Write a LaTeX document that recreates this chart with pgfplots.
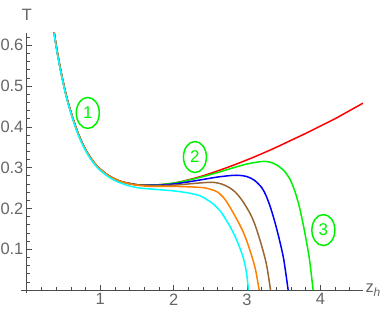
\documentclass[border=0pt]{standalone}
\usepackage{pgfplots}
\pgfplotsset{compat=1.18}
\usepackage{fontspec}
\setmainfont{Liberation Sans}
\usetikzlibrary{shapes.geometric}
\definecolor{mgreen}{rgb}{0,0.95,0}
\definecolor{mbrown}{rgb}{0.6,0.4,0.2}
\definecolor{morange}{rgb}{1,0.5,0}
\definecolor{mcyan}{rgb}{0,1,1}
\begin{document}
\begin{tikzpicture}
\path[use as bounding box] (-21bp,-25.7bp) rectangle (367bp,293.3bp);
\begin{axis}[
  at={(0,0)}, anchor=south west, scale only axis,
  width=342bp, height=260.3bp,
  xmin=-0.08, xmax=4.58, ymin=-0.008, ymax=0.63,
  axis lines=middle, axis line style={-, draw=black!70, line width=0.8pt},
  xtick={1,2,3,4}, ytick={0.1,0.2,0.3,0.4,0.5,0.6},
  minor xtick={0.2,0.4,0.6,0.8,1.2,1.4,1.6,1.8,2.2,2.4,2.6,2.8,3.2,3.4,3.6,3.8,4.2,4.4},
  minor ytick={0.02,0.04,0.06,0.08,0.12,0.14,0.16,0.18,0.22,0.24,0.26,0.28,0.32,0.34,0.36,0.38,0.42,0.44,0.46,0.48,0.52,0.54,0.56,0.58,0.62},
  tick align=inside, major tick length=5bp, minor tick length=3bp,
  every tick/.style={black!70, line width=0.6pt},
  ticklabel style={font=\fontsize{16.5}{18}\selectfont, text=black!60},
  yticklabel style={/pgf/number format/fixed, /pgf/number format/precision=1, /pgf/number format/fixed zerofill},
  /pgf/number format/assume math mode=true,
  xlabel={z\raisebox{-0.25em}{\fontsize{12}{12}\selectfont\itshape h}}, ylabel={T},
  label style={font=\fontsize{16.5}{18}\selectfont, text=black!60},
  ylabel style={anchor=south, yshift=9bp},
  xlabel style={anchor=west, xshift=-1bp},
  every axis plot/.append style={line width=1.5pt, smooth, tension=0.5},
]
% red
\addplot[red] coordinates {(0.37,0.633) (0.40,0.598) (0.45,0.548) (0.50,0.505) (0.55,0.467) (0.60,0.436) (0.65,0.408) (0.70,0.383) (0.75,0.362) (0.80,0.344) (0.85,0.329) (0.90,0.316) (0.95,0.305) (1.00,0.296) (1.10,0.282) (1.20,0.272) (1.30,0.265) (1.40,0.261) (1.50,0.258) (1.60,0.257) (1.70,0.257) (1.80,0.258) (2.00,0.262) (2.20,0.270) (2.40,0.280) (2.60,0.292) (2.80,0.305) (3.00,0.319) (3.20,0.334) (3.40,0.350) (3.60,0.367) (3.80,0.384) (4.00,0.402) (4.20,0.420) (4.40,0.440) (4.58,0.458)};
% green
\addplot[mgreen] coordinates {(0.37,0.633) (0.40,0.598) (0.45,0.548) (0.50,0.505) (0.55,0.467) (0.60,0.436) (0.65,0.408) (0.70,0.383) (0.75,0.362) (0.80,0.344) (0.85,0.329) (0.90,0.316) (0.95,0.305) (1.00,0.296) (1.10,0.282) (1.20,0.272) (1.30,0.265) (1.40,0.261) (1.50,0.258) (1.60,0.257) (1.70,0.257) (1.80,0.258) (2.00,0.262) (2.20,0.269) (2.40,0.278) (2.60,0.288) (2.80,0.299) (3.00,0.309) (3.20,0.315) (3.30,0.314) (3.40,0.307) (3.50,0.293) (3.58,0.273) (3.64,0.248) (3.70,0.213) (3.75,0.174) (3.80,0.128) (3.85,0.076) (3.90,0.0)};
% blue
\addplot[blue] coordinates {(0.37,0.633) (0.40,0.598) (0.45,0.548) (0.50,0.505) (0.55,0.467) (0.60,0.436) (0.65,0.408) (0.70,0.383) (0.75,0.362) (0.80,0.344) (0.85,0.329) (0.90,0.316) (0.95,0.305) (1.00,0.296) (1.10,0.282) (1.20,0.272) (1.30,0.265) (1.40,0.261) (1.50,0.258) (1.60,0.257) (1.70,0.257) (1.80,0.257) (2.00,0.260) (2.20,0.265) (2.40,0.271) (2.60,0.277) (2.80,0.281) (2.90,0.281) (3.00,0.278) (3.10,0.269) (3.20,0.251) (3.26,0.231) (3.32,0.202) (3.38,0.166) (3.44,0.124) (3.50,0.075) (3.56,0.0)};
% brown
\addplot[mbrown] coordinates {(0.37,0.633) (0.40,0.598) (0.45,0.548) (0.50,0.505) (0.55,0.467) (0.60,0.436) (0.65,0.408) (0.70,0.383) (0.75,0.362) (0.80,0.344) (0.85,0.329) (0.90,0.316) (0.95,0.305) (1.00,0.296) (1.10,0.282) (1.20,0.272) (1.30,0.265) (1.40,0.261) (1.50,0.258) (1.60,0.257) (1.70,0.256) (1.80,0.256) (2.00,0.257) (2.20,0.260) (2.40,0.263) (2.54,0.264) (2.65,0.260) (2.75,0.252) (2.84,0.240) (2.94,0.218) (3.04,0.188) (3.10,0.164) (3.16,0.132) (3.22,0.095) (3.27,0.058) (3.32,0.0)};
% orange
\addplot[morange] coordinates {(0.37,0.633) (0.40,0.598) (0.45,0.548) (0.50,0.505) (0.55,0.467) (0.60,0.436) (0.65,0.408) (0.70,0.383) (0.75,0.362) (0.80,0.344) (0.85,0.329) (0.90,0.316) (0.95,0.305) (1.00,0.296) (1.10,0.282) (1.20,0.272) (1.30,0.265) (1.40,0.260) (1.50,0.257) (1.60,0.255) (1.70,0.254) (1.80,0.254) (2.00,0.254) (2.20,0.253) (2.40,0.251) (2.50,0.247) (2.60,0.240) (2.70,0.222) (2.80,0.193) (2.90,0.160) (2.96,0.137) (3.02,0.108) (3.08,0.074) (3.12,0.046) (3.165,0.0)};
% cyan
\addplot[mcyan] coordinates {(0.37,0.630) (0.40,0.595) (0.45,0.545) (0.50,0.502) (0.55,0.464) (0.60,0.433) (0.65,0.405) (0.70,0.380) (0.75,0.359) (0.80,0.341) (0.85,0.326) (0.90,0.313) (0.95,0.302) (1.00,0.293) (1.10,0.279) (1.20,0.268) (1.30,0.261) (1.40,0.255) (1.50,0.251) (1.60,0.249) (1.80,0.246) (2.00,0.243) (2.20,0.238) (2.36,0.231) (2.45,0.222) (2.54,0.211) (2.65,0.190) (2.77,0.155) (2.84,0.130) (2.90,0.104) (2.95,0.078) (2.99,0.045) (3.02,0.0)};
\begin{scope}[every node/.style={draw=mgreen, line width=1.5pt, ellipse, minimum width=23bp, minimum height=31bp, inner sep=0pt, text=mgreen, font=\fontsize{17}{17}\selectfont}]
\node at (axis cs:0.83,0.434) {1};
\node at (axis cs:2.29,0.326) {2};
\node at (axis cs:4.04,0.147) {3};
\end{scope}
\end{axis}
\end{tikzpicture}
\end{document}
